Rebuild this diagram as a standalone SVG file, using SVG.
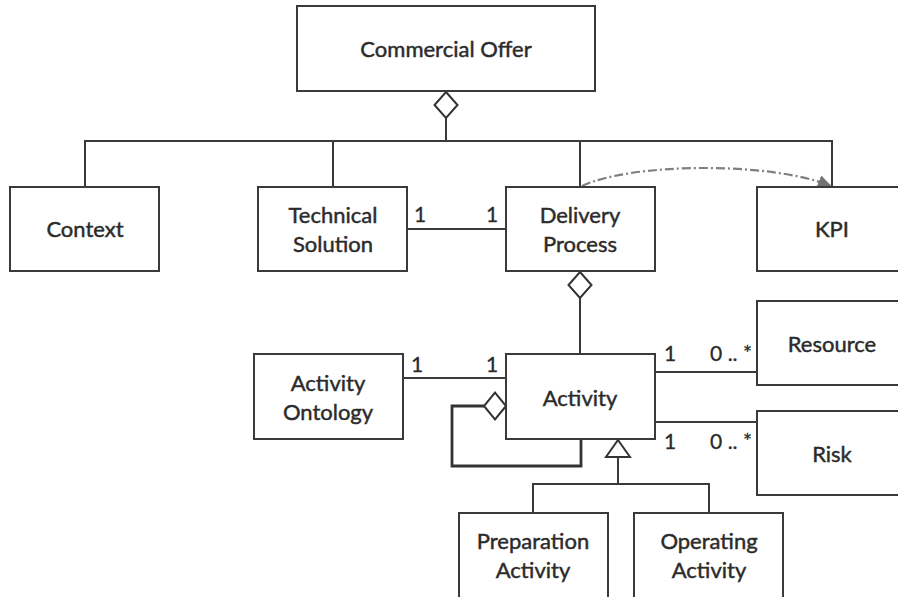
<svg xmlns="http://www.w3.org/2000/svg" width="898" height="597" viewBox="0 0 898 597">
<style>
.box{fill:#fff;stroke:#3a3a3a;stroke-width:2}
.t{font-family:Lato,"Open Sans",sans-serif;font-size:22px;fill:#2b2b2b;stroke:#2b2b2b;stroke-width:0.45;text-anchor:middle}
.m{font-family:Lato,"Open Sans",sans-serif;font-size:21px;fill:#2b2b2b;stroke:#2b2b2b;stroke-width:0.3;text-anchor:middle}
.ln{fill:none;stroke:#3a3a3a;stroke-width:2}
.thick{fill:none;stroke:#333;stroke-width:2.8}
.dia{fill:#fff;stroke:#333;stroke-width:2}
.dash{fill:none;stroke:#7f7f7f;stroke-width:2.2;stroke-dasharray:9 3 2 3}
</style>
<defs>
<marker id="ah" viewBox="0 0 14 12" refX="13" refY="6" markerWidth="14" markerHeight="12" markerUnits="userSpaceOnUse" orient="auto">
<path d="M0,0 L14,6 L0,12 Z" fill="#737373"/>
</marker>
</defs>
<rect width="898" height="597" fill="#fff"/>
<g id="connectors">
<path class="ln" d="M446,118 V141 M85,187 V141 H832 V187 M333,141 V187 M580,141 V187"/>
<path class="ln" d="M407,229 H506"/>
<path class="ln" d="M580,298 V354"/>
<path class="ln" d="M403,378 H506"/>
<path class="ln" d="M655,372 H757 M655,422 H757"/>
<path class="thick" d="M484,406 H452 V466 H581 V439"/>
<path class="ln" d="M618,457 V484 M533,513 V484 H709 V513"/>
<path class="dash" d="M582,186 C630,163 770,161 831,186" marker-end="url(#ah)"/>
<path class="dia" d="M446,92 L457.5,105 L446,118 L434.5,105 Z"/>
<path class="dia" d="M580,272 L591.5,285 L580,298 L568.5,285 Z"/>
<path class="dia" d="M506,406 L495,419.5 L484,406 L495,392.5 Z"/>
<path class="dia" d="M618,440 L630,457 L606,457 Z"/>
<text class="m" x="420" y="222">1</text>
<text class="m" x="492" y="222">1</text>
<text class="m" x="417" y="372">1</text>
<text class="m" x="492" y="372">1</text>
<text class="m" x="670" y="361">1</text>
<text class="m" x="731" y="361">0 .. *</text>
<text class="m" x="670" y="449">1</text>
<text class="m" x="731" y="449">0 .. *</text>
</g>
<g id="commercial-offer"><rect class="box" x="297" y="6" width="298" height="85"/><text class="t" x="446" y="57">Commercial Offer</text></g>
<g id="context"><rect class="box" x="10" y="187" width="149" height="84"/><text class="t" x="85" y="237">Context</text></g>
<g id="technical-solution"><rect class="box" x="258" y="187" width="149" height="84"/><text class="t" x="333" y="223">Technical</text><text class="t" x="333" y="252">Solution</text></g>
<g id="delivery-process"><rect class="box" x="506" y="187" width="149" height="84"/><text class="t" x="580" y="223">Delivery</text><text class="t" x="580" y="252">Process</text></g>
<g id="kpi"><rect class="box" x="757" y="187" width="150" height="84"/><text class="t" x="832" y="237">KPI</text></g>
<g id="resource"><rect class="box" x="757" y="301" width="150" height="84"/><text class="t" x="832" y="352">Resource</text></g>
<g id="risk"><rect class="box" x="757" y="411" width="150" height="84"/><text class="t" x="832" y="462">Risk</text></g>
<g id="activity-ontology"><rect class="box" x="254" y="354" width="149" height="85"/><text class="t" x="328" y="391">Activity</text><text class="t" x="328" y="420">Ontology</text></g>
<g id="activity"><rect class="box" x="506" y="354" width="149" height="85"/><text class="t" x="580" y="406">Activity</text></g>
<g id="preparation-activity"><rect class="box" x="459" y="513" width="149" height="90"/><text class="t" x="533" y="549">Preparation</text><text class="t" x="533" y="578">Activity</text></g>
<g id="operating-activity"><rect class="box" x="634" y="513" width="149" height="90"/><text class="t" x="709" y="549">Operating</text><text class="t" x="709" y="578">Activity</text></g>
</svg>
